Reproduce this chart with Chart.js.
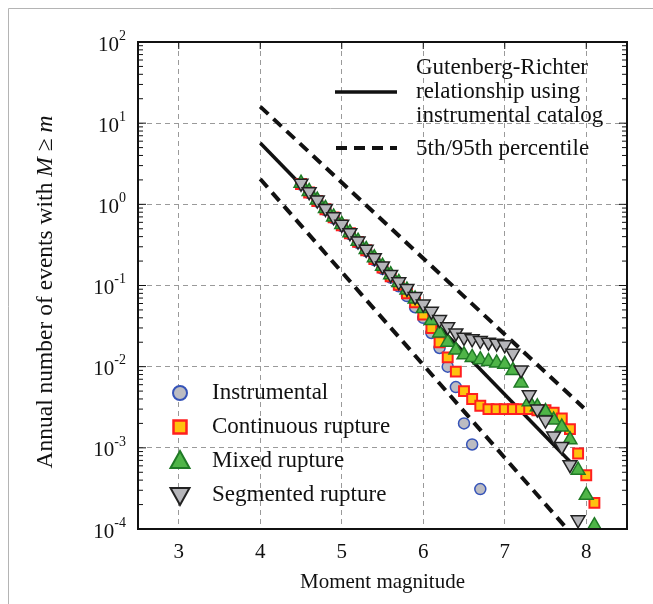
<!DOCTYPE html>
<html>
<head>
<meta charset="utf-8">
<script src="https://cdn.jsdelivr.net/npm/chart.js@4.4.1/dist/chart.umd.min.js"></script>
<style>
  html, body { margin:0; padding:0; background:#fff; }
  #wrap { position:relative; width:653px; height:604px; }
</style>
</head>
<body>
<div id="wrap"><canvas id="myChart" width="653" height="604"></canvas></div>
<script>
// magnitudes (every 0.1 from 4.5 to 8.1)
var mags = [4.5,4.6,4.7,4.8,4.9,5.0,5.1,5.2,5.3,5.4,5.5,5.6,5.7,5.8,5.9,
            6.0,6.1,6.2,6.3,6.4,6.5,6.6,6.7,6.8,6.9,7.0,7.1,7.2,7.3,7.4,7.5,7.6,7.7,7.8,7.9,8.0,8.1];

var instrumental = [1.75,1.38,1.08,0.85,0.67,0.54,0.43,0.335,0.265,0.205,0.16,0.125,0.098,0.074,0.054,
                    0.040,0.026,0.017,0.010,0.0056,0.0020,0.0011,0.00031,
                    null,null,null,null,null,null,null,null,null,null,null,null,null,null];
var continuous = [1.78,1.40,1.10,0.87,0.69,0.55,0.44,0.345,0.272,0.212,0.166,0.13,0.102,0.080,0.062,
                  0.044,0.030,0.020,0.013,0.0087,0.0050,0.0040,0.0033,0.0030,0.0030,0.0030,0.0030,0.0030,0.0030,0.0029,0.0029,
                  0.0027,0.0023,0.0017,0.00085,0.00046,0.00021];
var mixed = [1.82,1.44,1.13,0.89,0.70,0.565,0.447,0.352,0.278,0.219,0.173,0.136,0.109,0.088,0.068,
             0.052,0.037,0.026,0.020,0.016,0.014,0.013,0.0122,0.0116,0.0111,0.0107,0.0090,0.0063,0.0037,0.0032,0.0028,
             0.0022,0.0018,0.00126,0.00053,0.00026,0.00011];
var segmented = [1.82,1.43,1.13,0.89,0.705,0.567,0.448,0.353,0.279,0.220,0.174,0.137,0.111,0.092,0.073,
                 0.059,0.048,0.038,0.031,0.026,0.023,0.022,0.021,0.020,0.0195,0.0186,0.0146,0.0091,0.0045,0.0030,0.0022,
                 0.0014,0.00104,0.00062,0.00013,null,null];

// Gutenberg-Richter line and 5th/95th percentile lines (end points)
var grMag = [4.0, 7.8];
var grRate = [5.7, 0.00068];
var p95Mag = [4.0, 7.97];
var p95Rate = [16, 0.0031];
var p5Mag = [4.0, 7.73];
var p5Rate = [2.05, 0.00011];

var xTicks = [3,4,5,6,7,8];
var yExps = [-4,-3,-2,-1,0,1,2];

var FONT = "'Liberation Serif', 'Times New Roman', serif";

function pts(xs, ys){
    var out=[];
    for(var i=0;i<xs.length;i++){
        if(ys[i]!==null) out.push({x:xs[i], y:ys[i]});
    }
    return out;
}

function isDecade(v){
    var l = Math.log10(v);
    return Math.abs(l-Math.round(l))<1e-9;
}

// legend marker shapes
function mark(c, kind, x, y){
    c.save();
    c.beginPath();
    if(kind==='circle'){
        c.arc(x,y,7,0,Math.PI*2);
        c.fillStyle='#bcbcc2'; c.strokeStyle='#3553b8'; c.lineWidth=2;
    }else if(kind==='rect'){
        c.rect(x-6.5,y-6.5,13,13);
        c.fillStyle='#ffc20e'; c.strokeStyle='#ff1f1f'; c.lineWidth=2.5;
    }else if(kind==='up'){
        c.moveTo(x,y-10); c.lineTo(x+9.5,y+7); c.lineTo(x-9.5,y+7); c.closePath();
        c.fillStyle='#4fb548'; c.strokeStyle='#1f7a25'; c.lineWidth=2;
    }else{
        c.moveTo(x,y+10); c.lineTo(x+9.5,y-7); c.lineTo(x-9.5,y-7); c.closePath();
        c.fillStyle='#b6b6ba'; c.strokeStyle='#222'; c.lineWidth=2;
    }
    c.fill(); c.stroke();
    c.restore();
}

var decor = {
    id:'decor',
    beforeDraw: function(chart){
        var c=chart.ctx;
        c.save();
        c.fillStyle='#fff';
        c.fillRect(0,0,chart.width,chart.height);
        c.strokeStyle='#b4b4b4'; c.lineWidth=1;
        c.beginPath();
        c.moveTo(8.5,chart.height); c.lineTo(8.5,8.5); c.lineTo(chart.width,8.5);
        c.stroke();
        c.restore();
    },
    afterDraw: function(chart){
        var c=chart.ctx, a=chart.chartArea, xs=chart.scales.x, ys=chart.scales.y;
        c.save();
        // frame
        c.strokeStyle='#111'; c.lineWidth=2;
        c.strokeRect(a.left,a.top,a.right-a.left,a.bottom-a.top);
        // y ticks inside, both sides
        c.lineWidth=1;
        ys.ticks.forEach(function(t){
            var py=ys.getPixelForValue(t.value);
            var len=isDecade(t.value)?8:5;
            c.beginPath();
            c.moveTo(a.left,py); c.lineTo(a.left+len,py);
            c.moveTo(a.right,py); c.lineTo(a.right-len,py);
            c.stroke();
        });
        // top ticks
        xTicks.forEach(function(v){
            var px=xs.getPixelForValue(v);
            c.beginPath(); c.moveTo(px,a.top); c.lineTo(px,a.top+7); c.stroke();
        });
        // x tick labels
        c.fillStyle='#111';
        c.font='21px '+FONT;
        c.textAlign='center'; c.textBaseline='middle';
        xTicks.forEach(function(v){
            c.fillText(String(v), xs.getPixelForValue(v), a.bottom+23);
        });
        // y tick labels 10^n
        yExps.forEach(function(e){
            var py=ys.getPixelForValue(Math.pow(10,e));
            var sup=String(e);
            c.font='14px '+FONT;
            var sw=c.measureText(sup).width;
            c.textAlign='right';
            c.fillText(sup, a.left-12, py-6);
            c.font='21px '+FONT;
            c.fillText('10', a.left-12-sw, py+3);
        });
        // axis titles
        c.textAlign='center';
        c.font='21px '+FONT;
        c.fillText('Moment magnitude', (a.left+a.right)/2, a.bottom+53);
        c.save();
        c.translate(46, 292);
        c.rotate(-Math.PI/2);
        var parts=[['Annual number of events with ',''],['M','italic '],[' \u2265 ',''],['m','italic ']];
        var tot=0;
        parts.forEach(function(p){ c.font=p[1]+'23.5px '+FONT; tot+=c.measureText(p[0]).width; });
        var x0=-tot/2;
        c.textAlign='left';
        parts.forEach(function(p){ c.font=p[1]+'23.5px '+FONT; c.fillText(p[0],x0,0); x0+=c.measureText(p[0]).width; });
        c.restore();
        // legend: lines (top right)
        c.font='23px '+FONT;
        c.textAlign='left';
        c.strokeStyle='#111';
        c.lineWidth=3.5;
        c.beginPath(); c.moveTo(335,92); c.lineTo(397,92); c.stroke();
        c.lineWidth=4; c.setLineDash([11,7]);
        c.beginPath(); c.moveTo(336,148); c.lineTo(397,148); c.stroke();
        c.setLineDash([]);
        c.fillText('Gutenberg-Richter',416,68);
        c.fillText('relationship using',416,92);
        c.fillText('instrumental catalog',416,116);
        c.fillText('5th/95th percentile',416,149);
        // legend: markers (bottom left)
        var items=[['circle','Instrumental'],['rect','Continuous rupture'],['up','Mixed rupture'],['down','Segmented rupture']];
        items.forEach(function(it,i){
            var yy=393+i*34;
            mark(c,it[0],180,yy);
            c.fillStyle='#111';
            c.fillText(it[1],212,yy);
        });
        c.restore();
    }
};

var ctx=document.getElementById('myChart');
var myChart=new Chart(ctx,{
    type:'scatter',
    data:{
        datasets:[
            {label:'Segmented rupture', data:pts(mags,segmented), order:0,
             pointStyle:'triangle', rotation:180, pointRadius:8, pointBorderWidth:1.5,
             backgroundColor:'#b6b6ba', borderColor:'#222'},
            {label:'Mixed rupture', data:pts(mags,mixed), order:1,
             pointStyle:'triangle', pointRadius:8, pointBorderWidth:1.5,
             backgroundColor:'#4fb548', borderColor:'#1f7a25'},
            {label:'Continuous rupture', data:pts(mags,continuous), order:2,
             pointStyle:'rect', pointRadius:7, pointBorderWidth:2,
             backgroundColor:'#ffc20e', borderColor:'#ff1f1f'},
            {label:'Instrumental', data:pts(mags,instrumental), order:3,
             pointStyle:'circle', pointRadius:5.5, pointBorderWidth:1.5,
             backgroundColor:'#bcbcc2', borderColor:'#3553b8'},
            {label:'G-R', data:pts(grMag,grRate), order:4, showLine:true,
             pointRadius:0, borderColor:'#111', borderWidth:3.5},
            {label:'95th', data:pts(p95Mag,p95Rate), order:5, showLine:true,
             pointRadius:0, borderColor:'#111', borderWidth:4, borderDash:[11,7]},
            {label:'5th', data:pts(p5Mag,p5Rate), order:6, showLine:true,
             pointRadius:0, borderColor:'#111', borderWidth:4, borderDash:[11,7]}
        ]
    },
    options:{
        responsive:false,
        animation:false,
        devicePixelRatio:1,
        layout:{padding:{left:138,top:42,right:26,bottom:75}},
        plugins:{legend:{display:false}, tooltip:{enabled:false}},
        scales:{
            x:{
                type:'linear', min:2.5, max:8.5,
                afterBuildTicks:function(s){ s.ticks=xTicks.map(function(v){return {value:v};}); },
                ticks:{display:false},
                grid:{drawTicks:false, color:'#9a9a9a', lineWidth:1},
                border:{display:false, dash:[5,4]}
            },
            y:{
                type:'logarithmic', min:1e-4, max:100,
                afterBuildTicks:function(s){
                    var t=[];
                    for(var e=-4;e<2;e++){ for(var m=1;m<10;m++){ t.push({value:m*Math.pow(10,e)}); } }
                    t.push({value:100});
                    s.ticks=t;
                },
                ticks:{display:false},
                grid:{drawTicks:false, lineWidth:1,
                      color:function(c){ return (c.tick && isDecade(c.tick.value)) ? '#9a9a9a' : 'rgba(0,0,0,0)'; }},
                border:{display:false, dash:[5,4]}
            }
        }
    },
    plugins:[decor]
});
</script>
</body>
</html>
